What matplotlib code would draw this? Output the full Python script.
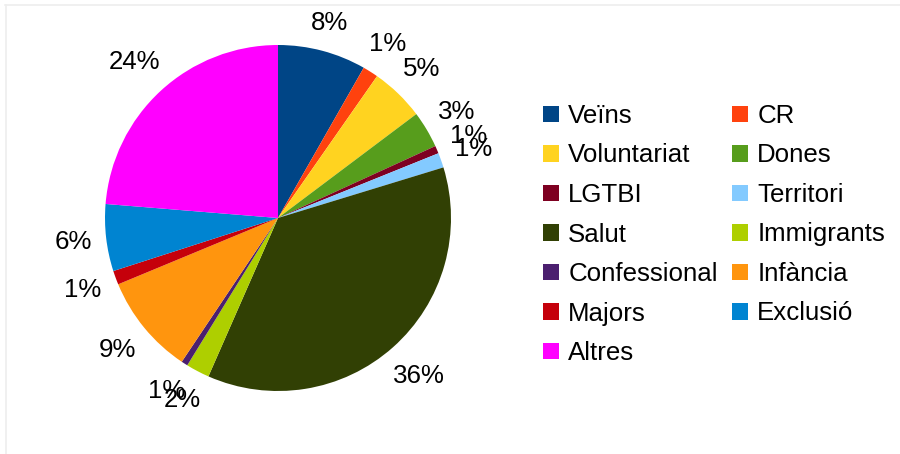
import numpy as np
import matplotlib
matplotlib.use("Agg")
import matplotlib.pyplot as plt
from matplotlib.patches import Patch
from matplotlib.lines import Line2D

plt.rcParams['font.family'] = ['Liberation Sans', 'DejaVu Sans']

# data (percent of total)
categories = ['Veïns', 'CR', 'Voluntariat', 'Dones', 'LGTBI', 'Territori', 'Salut',
              'Immigrants', 'Confessional', 'Infància', 'Majors', 'Exclusió', 'Altres']
values = [8.25, 1.45, 5.04, 3.43, 0.72, 1.38, 36.3, 2.2, 0.6, 9.35, 1.3, 6.25, 23.7]
colors = ['#004586', '#ff420e', '#ffd320', '#579d1c', '#7e0021', '#83caff', '#314004',
          '#aecf00', '#4b1f6f', '#ff950e', '#c5000b', '#0084d1', '#ff00ff']

W, H = 900, 454
cx, cy, R = 278, 218, 173   # pie centre / radius in pixels

fig = plt.figure(figsize=(W / 100, H / 100), dpi=100)
ax = fig.add_axes([0, 0, 1, 1])

wedges, _ = ax.pie(values, colors=colors, startangle=90, counterclock=False,
                   radius=1, center=(0, 0), wedgeprops=dict(linewidth=0))
ax.set_aspect('auto')
ax.set_xlim(-cx / R, (W - cx) / R)
ax.set_ylim(-(H - cy) / R, cy / R)
ax.axis('off')

# percentage labels placed just outside the rim
total = sum(values)
fs = 18.6
for w, v in zip(wedges, values):
    mid = np.deg2rad((w.theta1 + w.theta2) / 2)
    s, c = np.cos(mid), np.sin(mid)
    txt = f'{v / total * 100:.0f}%'
    half_w = (13 * len(txt) + 10) / 2 / R
    half_h = 11 / R
    d = 1 + 14 / R + abs(half_w * s) + abs(half_h * c)
    ax.text(d * s, d * c, txt, ha='center', va='center', fontsize=fs)

# legend, row-major order in two columns
order = list(range(0, 13, 2)) + list(range(1, 13, 2))
handles = [Patch(facecolor=colors[i], edgecolor='none') for i in order]
labels = [categories[i] for i in order]
fig.legend(handles, labels, ncol=2, loc='upper left',
           bbox_to_anchor=(543 / W, 1 - 104 / H), frameon=False, fontsize=fs,
           handlelength=0.62, handleheight=0.62, handletextpad=0.36,
           columnspacing=0.55, labelspacing=0.6, borderpad=0, borderaxespad=0)

# faint frame lines on top and left
fig.add_artist(Line2D([5 / W, 1], [1 - 4.5 / H] * 2, color='#eeeeee', lw=1.2))
fig.add_artist(Line2D([5.5 / W] * 2, [0, 1 - 4.5 / H], color='#eeeeee', lw=1.2))

fig.savefig('out.png', dpi=100)
